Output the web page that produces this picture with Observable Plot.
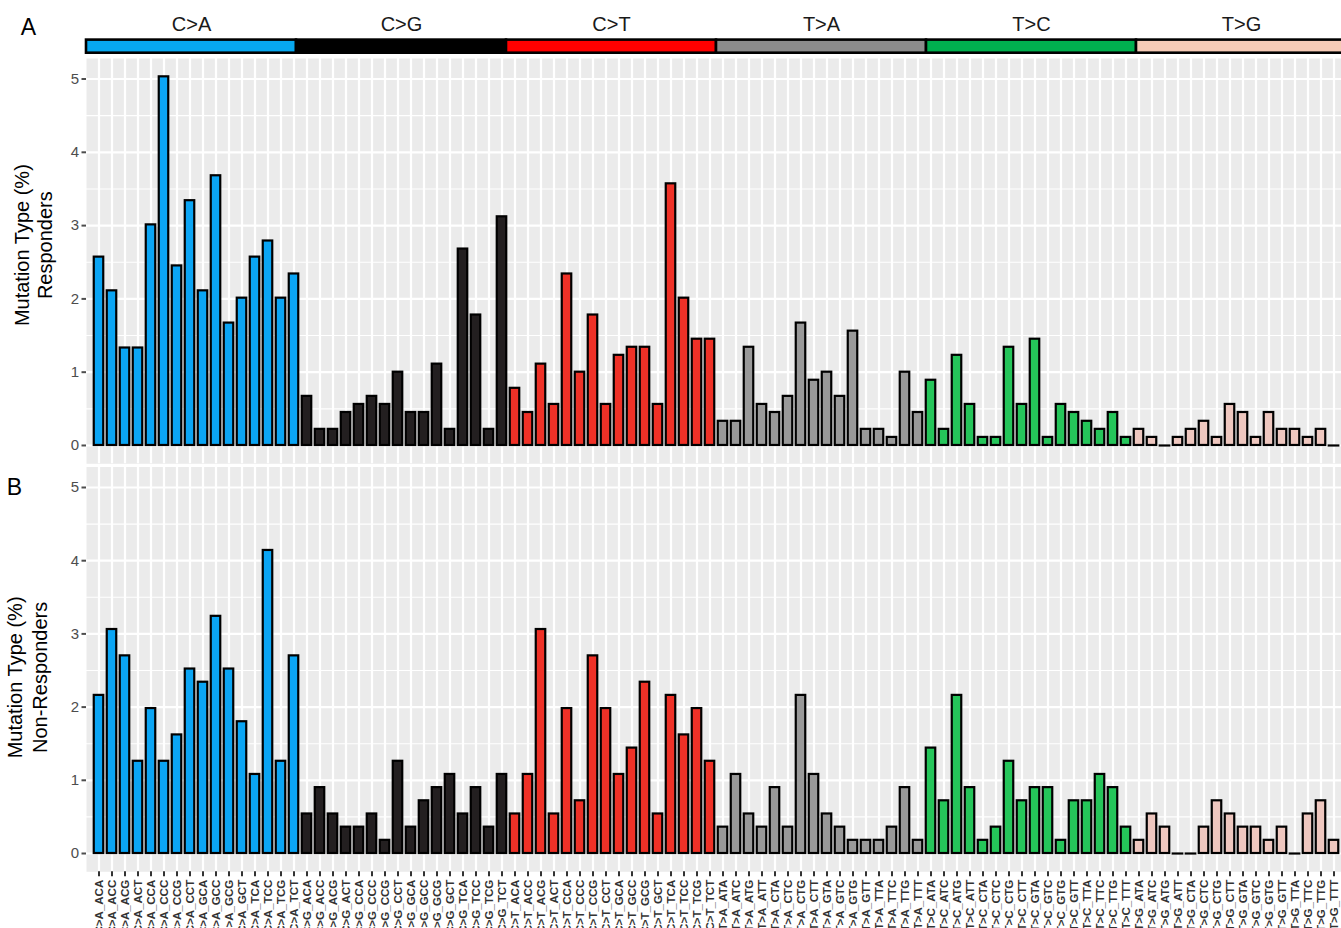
<!DOCTYPE html>
<html>
<head>
<meta charset="utf-8">
<script src="https://cdn.jsdelivr.net/npm/d3@7"></script>
<script src="https://cdn.jsdelivr.net/npm/@observablehq/plot@0.6"></script>
<style>
  html, body { margin: 0; padding: 0; background: #ffffff; overflow: hidden; }
  #wrap { position: relative; width: 1346px; height: 928px; }
  .layer { position: absolute; left: 0; }
  .layer svg { max-width: none !important; overflow: visible; background: transparent !important; }
</style>
</head>
<body>
<div id="wrap">
  <div id="panelA" class="layer" style="top:0px"></div>
  <div id="strip" class="layer" style="top:0px"></div>
  <div id="panelB" class="layer" style="top:466px"></div>
</div>
<script>
// ---------------- data ----------------
const mutationTypes = ["C>A", "C>G", "C>T", "T>A", "T>C", "T>G"];
const contextsC = ["ACA","ACC","ACG","ACT","CCA","CCC","CCG","CCT","GCA","GCC","GCG","GCT","TCA","TCC","TCG","TCT"];
const contextsT = ["ATA","ATC","ATG","ATT","CTA","CTC","CTG","CTT","GTA","GTC","GTG","GTT","TTA","TTC","TTG","TTT"];

// Panel A: Responders (% of mutations), 16 contexts per mutation type
const respondersCA = [2.57, 2.11, 1.33, 1.33, 3.01, 5.03, 2.45, 3.34, 2.11, 3.68, 1.67, 2.01, 2.57, 2.79, 2.01, 2.34];
const respondersCG = [0.67, 0.22, 0.22, 0.45, 0.56, 0.67, 0.56, 1.00, 0.45, 0.45, 1.11, 0.22, 2.68, 1.78, 0.22, 3.12];
const respondersCT = [0.78, 0.45, 1.11, 0.56, 2.34, 1.00, 1.78, 0.56, 1.23, 1.34, 1.34, 0.56, 3.57, 2.01, 1.45, 1.45];
const respondersTA = [0.33, 0.33, 1.34, 0.56, 0.45, 0.67, 1.67, 0.89, 1.00, 0.67, 1.56, 0.22, 0.22, 0.11, 1.00, 0.45];
const respondersTC = [0.89, 0.22, 1.23, 0.56, 0.11, 0.11, 1.34, 0.56, 1.45, 0.11, 0.56, 0.45, 0.33, 0.22, 0.45, 0.11];
const respondersTG = [0.22, 0.11, 0.00, 0.11, 0.22, 0.33, 0.11, 0.56, 0.45, 0.11, 0.45, 0.22, 0.22, 0.11, 0.22, 0.00];

// Panel B: Non-Responders
const nonRespondersCA = [2.16, 3.06, 2.70, 1.26, 1.98, 1.26, 1.62, 2.52, 2.34, 3.24, 2.52, 1.80, 1.08, 4.14, 1.26, 2.70];
const nonRespondersCG = [0.54, 0.90, 0.54, 0.36, 0.36, 0.54, 0.18, 1.26, 0.36, 0.72, 0.90, 1.08, 0.54, 0.90, 0.36, 1.08];
const nonRespondersCT = [0.54, 1.08, 3.06, 0.54, 1.98, 0.72, 2.70, 1.98, 1.08, 1.44, 2.34, 0.54, 2.16, 1.62, 1.98, 1.26];
const nonRespondersTA = [0.36, 1.08, 0.54, 0.36, 0.90, 0.36, 2.16, 1.08, 0.54, 0.36, 0.18, 0.18, 0.18, 0.36, 0.90, 0.18];
const nonRespondersTC = [1.44, 0.72, 2.16, 0.90, 0.18, 0.36, 1.26, 0.72, 0.90, 0.90, 0.18, 0.72, 0.72, 1.08, 0.90, 0.36];
const nonRespondersTG = [0.18, 0.54, 0.36, 0.00, 0.00, 0.36, 0.72, 0.54, 0.36, 0.36, 0.18, 0.36, 0.00, 0.54, 0.72, 0.18];

const barColors   = ["#0BA5F4", "#231F20", "#EF3127", "#999999", "#25C55A", "#EEC7BF"];
const stripColors = ["#07A8F0", "#000000", "#FF0000", "#8C8C8C", "#00B04F", "#F6CBB6"];
const yTicks = [0, 1, 2, 3, 4, 5];
const yMinorTicks = [0.5, 1.5, 2.5, 3.5, 4.5];
const yTitleMain = "Mutation Type (%)";
const yTitleA = "Responders";
const yTitleB = "Non-Responders";
const panelLabels = ["A", "B"];

// ---------------- table built from the arrays ----------------
const respondersByType = [respondersCA, respondersCG, respondersCT, respondersTA, respondersTC, respondersTG];
const nonRespondersByType = [nonRespondersCA, nonRespondersCG, nonRespondersCT, nonRespondersTA, nonRespondersTC, nonRespondersTG];

function buildRows(valuesByType) {
  const rows = [];
  mutationTypes.forEach((type, t) => {
    const ctx = type.startsWith("C") ? contextsC : contextsT;
    ctx.forEach((c, i) => rows.push({type, label: `${type}_${c}`, value: valuesByType[t][i]}));
  });
  return rows;
}
const rowsA = buildRows(respondersByType);
const rowsB = buildRows(nonRespondersByType);
const categories = rowsA.map(d => d.label);

// ---------------- layout ----------------
const FONT = "'Liberation Sans', Arial, Helvetica, sans-serif";
const W = 1346, ML = 86, MR = 0;
const yDomain = [-0.25, 5.28];

function panel(rows, {height, marginTop, marginBottom, titleDx1, titleDx2, titleDy, subtitle, panelLabel, labelDx, labelDy, showX}) {
  const zeros = rows.filter(d => d.value === 0);
  const marks = [
    Plot.frame({fill: "#EBEBEB", stroke: "none"}),
    Plot.ruleY(yMinorTicks, {stroke: "#ffffff", strokeWidth: 1.1}),
    Plot.ruleY(yTicks, {stroke: "#ffffff", strokeWidth: 2.2}),
    Plot.ruleX(categories, {stroke: "#ffffff", strokeWidth: 2.2}),
    Plot.barY(rows, {x: "label", y: "value", fill: "type", stroke: "#000000", strokeWidth: 2.2, insetLeft: 1.75, insetRight: 1.75}),
    Plot.tickY(zeros, {x: "label", y: 0, stroke: "#000000", strokeWidth: 2.2, insetLeft: 0.6, insetRight: 0.6}),
    Plot.axisY(yTicks, {tickSize: 4.5, tickPadding: 3, tickFormat: d => String(d), fontSize: 15, color: "#4D4D4D", strokeWidth: 2, label: null}),
    Plot.text([yTitleMain], {text: d => d, frameAnchor: "left", rotate: -90, dx: titleDx1, dy: titleDy, fontSize: 20, fill: "#000000", textAnchor: "middle", lineAnchor: "middle"}),
    Plot.text([subtitle], {text: d => d, frameAnchor: "left", rotate: -90, dx: titleDx2, dy: titleDy, fontSize: 20, fill: "#000000", textAnchor: "middle", lineAnchor: "middle"}),
    Plot.text([panelLabel], {text: d => d, frameAnchor: "top-left", dx: labelDx, dy: labelDy, fontSize: 23, fill: "#000000", textAnchor: "middle", lineAnchor: "middle"})
  ];
  if (showX) {
    marks.push(Plot.axisX(categories, {tickSize: 5, tickPadding: 3, tickRotate: -90, fontSize: 11.5, fontWeight: "bold", color: "#333333", strokeWidth: 2, label: null}));
  }
  return Plot.plot({
    width: W, height, marginLeft: ML, marginRight: MR, marginTop, marginBottom,
    x: {type: "band", domain: categories, padding: 0, axis: null},
    y: {domain: yDomain, axis: null},
    color: {type: "ordinal", domain: mutationTypes, range: barColors},
    style: {fontFamily: FONT, background: "transparent", maxWidth: "none", overflow: "visible"},
    marks
  });
}

const plotA = panel(rowsA, {
  height: 466, marginTop: 58, marginBottom: 2.7,
  titleDx1: -64, titleDx2: -41, titleDy: -16, subtitle: yTitleA,
  panelLabel: panelLabels[0], labelDx: -58, labelDy: -31, showX: false
});
document.getElementById("panelA").appendChild(plotA);

const plotB = panel(rowsB, {
  height: 462, marginTop: 0.5, marginBottom: 56.7,
  titleDx1: -71, titleDx2: -46, titleDy: 8, subtitle: yTitleB,
  panelLabel: panelLabels[1], labelDx: -72, labelDy: 20.5, showX: true
});
document.getElementById("panelB").appendChild(plotB);

// strip of mutation types above panel A
const strip = Plot.plot({
  width: W, height: 57, marginLeft: ML, marginRight: MR, marginTop: 39.6, marginBottom: 4.3,
  x: {type: "band", domain: mutationTypes, padding: 0, axis: null},
  color: {type: "ordinal", domain: mutationTypes, range: stripColors},
  style: {fontFamily: FONT, background: "transparent", maxWidth: "none", overflow: "visible"},
  marks: [
    Plot.cell(mutationTypes, {x: d => d, fill: d => d, stroke: "#000000", strokeWidth: 2.6, inset: 0}),
    Plot.text(mutationTypes, {x: d => d, text: d => d, frameAnchor: "top", dy: -15.5, fontSize: 20, fill: "#1A1A1A", lineAnchor: "middle"})
  ]
});
document.getElementById("strip").appendChild(strip);
</script>
</body>
</html>
